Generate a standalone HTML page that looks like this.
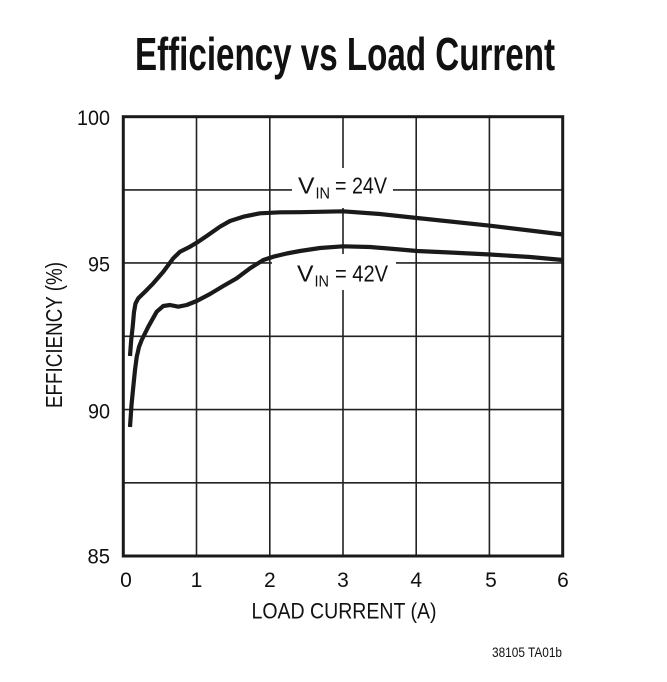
<!DOCTYPE html>
<html>
<head>
<meta charset="utf-8">
<style>
html,body{margin:0;padding:0;background:#fff;}
svg{display:block;}
text{font-family:"Liberation Sans Narrow","Liberation Sans",Arial,sans-serif;fill:#111;}
</style>
</head>
<body>
<svg width="667" height="682" viewBox="0 0 667 682" xmlns="http://www.w3.org/2000/svg">
<rect width="667" height="682" fill="#fff"/>

<!-- Title -->
<text x="135" y="70" font-size="46" font-weight="bold" textLength="420" lengthAdjust="spacingAndGlyphs" style="font-family:'Liberation Sans',Arial,sans-serif">Efficiency vs Load Current</text>

<!-- grid -->
<g stroke="#222" stroke-width="1.6" fill="none">
  <line x1="196.5" y1="116.7" x2="196.5" y2="556"/>
  <line x1="269.8" y1="116.7" x2="269.8" y2="556"/>
  <line x1="343" y1="116.7" x2="343" y2="556"/>
  <line x1="416.2" y1="116.7" x2="416.2" y2="556"/>
  <line x1="489.4" y1="116.7" x2="489.4" y2="556"/>
  <line x1="123.3" y1="189.9" x2="562.7" y2="189.9"/>
  <line x1="123.3" y1="262.9" x2="562.7" y2="262.9"/>
  <line x1="123.3" y1="336.3" x2="562.7" y2="336.3"/>
  <line x1="123.3" y1="409.6" x2="562.7" y2="409.6"/>
  <line x1="123.3" y1="482.8" x2="562.7" y2="482.8"/>
</g>
<rect x="123.3" y="116.7" width="439.4" height="439.3" fill="none" stroke="#1a1a1a" stroke-width="3"/>

<!-- label boxes -->
<rect x="292" y="168" width="101" height="40" fill="#fff"/>
<rect x="272" y="254" width="124" height="36" fill="#fff"/>

<!-- curves -->
<g fill="none" stroke="#1a1a1a" stroke-width="4.2" stroke-linejoin="round">
  <path d="M130,356 L131.2,340 L132.7,326.7 L134,312 L135.5,303.5 L138.3,298.3 L145,291.7 L153.3,283.3 L163.3,271.7 L173.3,258.3 L180,251.7 L190,246.7 L196.7,242.7 L206.7,236 L220,226.7 L230,221 L243.3,216.7 L260,213.3 L280,212.3 L300,212.2 L343,211.3 L380,214 L417,218 L490,225.7 L563,234.5"/>
  <path d="M130,427 L131.5,405 L133.3,386.7 L135,370 L136.7,357 L139,347 L141.7,340 L148.3,326.7 L156.7,311.7 L163.3,306 L170,305 L178.3,306.7 L186.7,305 L196.7,301 L210,294 L223.3,286 L236.7,278.3 L250,268.3 L263.3,260 L273.3,256.7 L286.7,253.5 L300,251 L320,248 L343,246.3 L370,247 L400,249.5 L417,251 L450,252.5 L490,254.5 L530,257 L563,260"/>
</g>

<!-- series labels -->
<text x="298" y="193.5" font-size="23" textLength="16.5" lengthAdjust="spacingAndGlyphs">V</text>
<text x="315.5" y="198.5" font-size="16" textLength="14.5" lengthAdjust="spacingAndGlyphs">IN</text>
<text x="335" y="193.5" font-size="23" textLength="52" lengthAdjust="spacingAndGlyphs">= 24V</text>

<text x="297" y="281.5" font-size="23" textLength="16.5" lengthAdjust="spacingAndGlyphs">V</text>
<text x="314.5" y="286.5" font-size="16" textLength="14.5" lengthAdjust="spacingAndGlyphs">IN</text>
<text x="335" y="281.5" font-size="23" textLength="53" lengthAdjust="spacingAndGlyphs">= 42V</text>

<!-- y tick labels -->
<g font-size="21" text-anchor="end">
  <text x="110" y="125" textLength="33" lengthAdjust="spacingAndGlyphs">100</text>
  <text x="110" y="271.3" textLength="22" lengthAdjust="spacingAndGlyphs">95</text>
  <text x="110" y="418.3" textLength="22" lengthAdjust="spacingAndGlyphs">90</text>
  <text x="110" y="563.3" textLength="22.5" lengthAdjust="spacingAndGlyphs">85</text>
</g>

<!-- x tick labels -->
<g font-size="21" text-anchor="middle">
  <text x="126" y="587">0</text>
  <text x="196.5" y="587">1</text>
  <text x="269.8" y="587">2</text>
  <text x="343" y="587">3</text>
  <text x="416.2" y="587">4</text>
  <text x="491" y="587">5</text>
  <text x="563" y="587">6</text>
</g>

<!-- axis titles -->
<text x="344" y="618.5" font-size="22" text-anchor="middle" textLength="185" lengthAdjust="spacingAndGlyphs">LOAD CURRENT (A)</text>
<text transform="translate(62,335) rotate(-90)" x="0" y="0" font-size="23" text-anchor="middle" textLength="146" lengthAdjust="spacingAndGlyphs">EFFICIENCY (%)</text>

<!-- footnote -->
<text x="492" y="657" font-size="14" textLength="70" lengthAdjust="spacingAndGlyphs">38105 TA01b</text>
</svg>
</body>
</html>
